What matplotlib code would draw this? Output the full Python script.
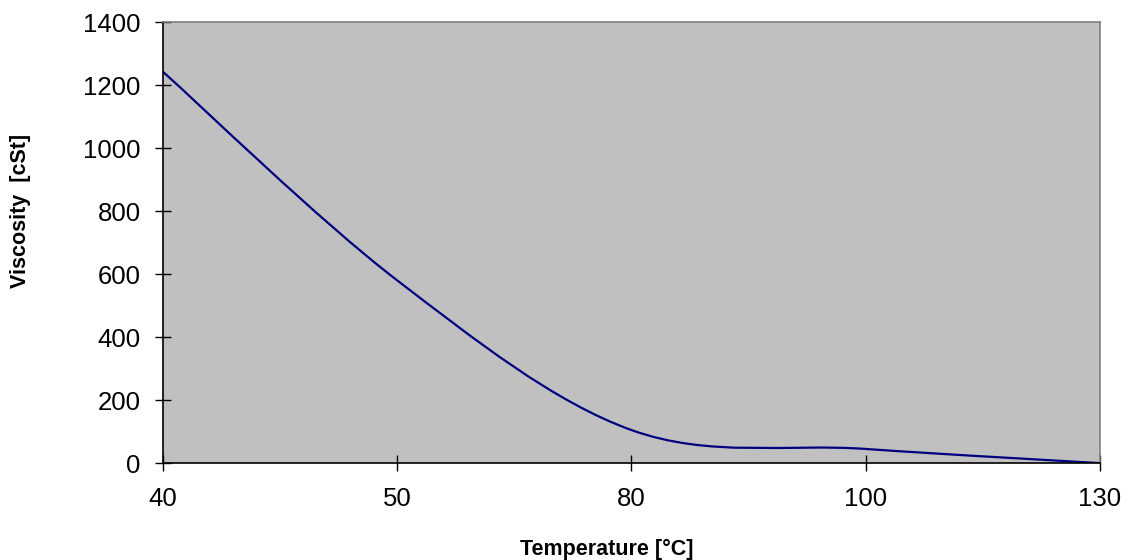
import matplotlib.pyplot as plt
from matplotlib.path import Path
from matplotlib.patches import PathPatch
import numpy as np

plt.rcParams['font.family'] = ['Liberation Sans', 'DejaVu Sans']

# data (category axis, equally spaced)
temps = ['40', '50', '80', '100', '130']
visc = [1242, 580, 105, 45, 0]

fig = plt.figure(figsize=(11.24, 5.6), dpi=100)
ax = fig.add_axes([0.145, 0.173, 0.8335, 0.7877])
ax.set_facecolor('#c0c0c0')

# smoothed line, Excel style bezier through the points
xs = np.arange(len(visc), dtype=float)
ys = np.array(visc, dtype=float)
P = np.column_stack([xs, ys])
Pe = np.vstack([P[0], P, P[-1]])
verts = [tuple(P[0])]
codes = [Path.MOVETO]
for i in range(len(P) - 1):
    p0, p1, p2, p3 = Pe[i], Pe[i + 1], Pe[i + 2], Pe[i + 3]
    c1 = p1 + (p2 - p0) / 6.0
    c2 = p2 - (p3 - p1) / 6.0
    verts += [tuple(c1), tuple(c2), tuple(p2)]
    codes += [Path.CURVE4] * 3
ax.add_patch(PathPatch(Path(verts, codes), facecolor='none', edgecolor='#000080', lw=1.6))

ax.set_xlim(0, len(temps) - 1)
ax.set_ylim(0, 1400)
ax.set_xticks(xs)
ax.set_xticklabels(temps)
ax.set_yticks(np.arange(0, 1401, 200))
ax.tick_params(axis='both', direction='inout', length=12, width=1, labelsize=18.5, colors='black')
ax.tick_params(axis='x', pad=11)
ax.tick_params(axis='y', pad=10)
for s in ['left', 'bottom']:
    ax.spines[s].set_color('black')
    ax.spines[s].set_linewidth(1.2)
for s in ['top', 'right']:
    ax.spines[s].set_color('#808080')
    ax.spines[s].set_linewidth(1.2)

fig.text(607 / 1124, 1 - 549 / 560, 'Temperature [\u00b0C]', ha='center', va='center', fontsize=15.5, fontweight='bold')
fig.text(21 / 1124, 1 - 211 / 560, 'Viscosity  [cSt]', ha='center', va='center', rotation=90, fontsize=15.5, fontweight='bold')

fig.savefig('out.png', dpi=100)
